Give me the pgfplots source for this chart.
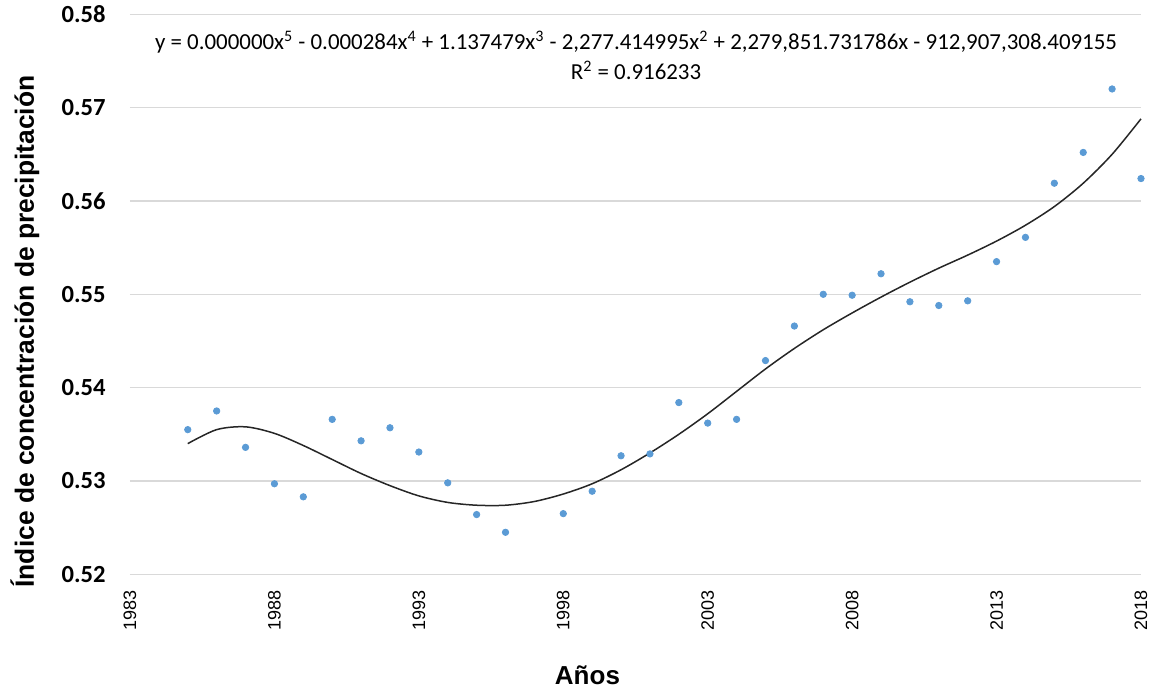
\documentclass[border=0pt]{standalone}
\usepackage{fontspec}
\setmainfont{Carlito}
\newfontfamily\arial{Liberation Sans}
\usepackage{pgfplots}
\pgfplotsset{compat=1.18}
\definecolor{ptblue}{HTML}{5B9BD5}
\definecolor{gridgray}{HTML}{D9D9D9}
\begin{document}
\begin{tikzpicture}
\useasboundingbox (0pt,0pt) rectangle (575.5pt,345pt);
\begin{axis}[
  at={(65pt,57.85pt)}, anchor=south west,
  scale only axis, width=505.5pt, height=280pt,
  xmin=1983, xmax=2018, ymin=0.52, ymax=0.58,
  enlargelimits=false,
  xtick={1983,1988,1993,1998,2003,2008,2013,2018},
  ytick={0.52,0.53,0.54,0.55,0.56,0.57,0.58},
  ymajorgrids, grid style={gridgray, line width=0.6pt},
  axis lines*=left, axis line style={draw=none}, tick style={draw=none},
  clip=false,
  xticklabel style={rotate=90, anchor=east, inner sep=0pt, xshift=-8pt,
    font=\arial\fontsize{9}{10}\selectfont,
    /pgf/number format/1000 sep={}, /pgf/number format/assume math mode=true},
  yticklabel style={anchor=east, inner sep=0pt, xshift=-12pt,
    font=\bfseries\fontsize{12.3}{14}\selectfont,
    /pgf/number format/.cd, fixed, fixed zerofill, precision=2, assume math mode=true},
  xlabel={Años},
  xlabel style={at={(axis description cs:0.4525,-0.18)}, anchor=center,
    font=\arial\bfseries\fontsize{13}{15}\selectfont},
  ylabel={Índice de concentración de precipitación},
  ylabel style={at={(axis description cs:-0.1039,0.4336)}, anchor=center,
    font=\arial\bfseries\fontsize{13.2}{15}\selectfont},
]
\addplot[only marks, mark=*, mark size=1.6pt, color=ptblue] coordinates {
(1985,0.5355) (1986,0.5375) (1987,0.5336) (1988,0.5297) (1989,0.5283)
(1990,0.5366) (1991,0.5343) (1992,0.5357) (1993,0.5331) (1994,0.5298)
(1995,0.5264) (1996,0.5245) (1998,0.5265) (1999,0.5289) (2000,0.5327)
(2001,0.5329) (2002,0.5384) (2003,0.5362) (2004,0.5366) (2005,0.5429)
(2006,0.5466) (2007,0.5500) (2008,0.5499) (2009,0.5522) (2010,0.5492)
(2011,0.5488) (2012,0.5493) (2013,0.5535) (2014,0.5561) (2015,0.5619)
(2016,0.5652) (2017,0.5720) (2018,0.5624)
};
\addplot[smooth, no marks, color=black!85, line width=0.75pt] coordinates {
(1985,0.5340) (1986,0.5355) (1987,0.5358) (1988,0.5351) (1989,0.5338)
(1990,0.5323) (1991,0.5308) (1992,0.5295) (1993,0.5284) (1994,0.5277)
(1995,0.5274) (1996,0.5274) (1997,0.5278) (1998,0.5286) (1999,0.5297)
(2000,0.5312) (2001,0.5330) (2002,0.5350) (2003,0.5372) (2004,0.5396)
(2005,0.5420) (2006,0.5442) (2007,0.5462) (2008,0.5480) (2009,0.5497)
(2010,0.5513) (2011,0.5528) (2012,0.5542) (2013,0.5557) (2014,0.5574)
(2015,0.5594) (2016,0.5619) (2017,0.5650) (2018,0.5688)
};
\node[font=\fontsize{11.45}{13}\selectfont, inner sep=0pt] at (axis description cs:0.5005,0.9505)
  {y = 0.000000x\textsuperscript{5} - 0.000284x\textsuperscript{4} + 1.137479x\textsuperscript{3} - 2,277.414995x\textsuperscript{2} + 2,279,851.731786x - 912,907,308.409155};
\node[font=\fontsize{11.45}{13}\selectfont, inner sep=0pt] at (axis description cs:0.5005,0.9005)
  {R\textsuperscript{2} = 0.916233};
\end{axis}
\end{tikzpicture}
\end{document}
